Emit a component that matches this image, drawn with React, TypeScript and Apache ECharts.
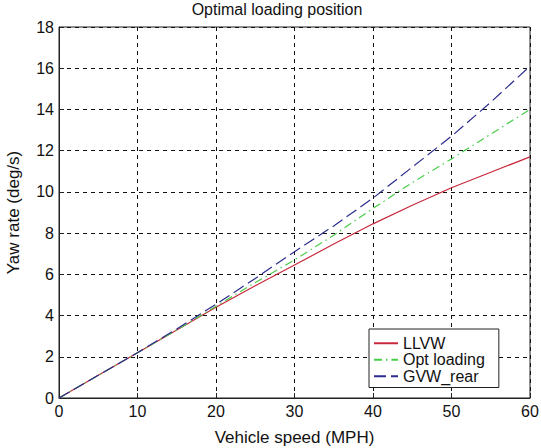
import React, { useEffect, useRef } from "react";
import * as echarts from "echarts";

const speeds = [0, 5, 10, 15, 20, 25, 30, 35, 40, 45, 50, 55, 60];
const llvw = [0, 1.1, 2.2, 3.3, 4.4, 5.45, 6.45, 7.47, 8.45, 9.35, 10.2, 10.95, 11.7];
const optLoading = [0, 1.1, 2.2, 3.3, 4.45, 5.6, 6.7, 7.9, 9.2, 10.45, 11.6, 12.8, 14.0];
const gvwRear = [0, 1.1, 2.2, 3.35, 4.55, 5.8, 7.1, 8.35, 9.7, 11.2, 12.7, 14.35, 16.1];
const seriesNames = ["LLVW", "Opt loading", "GVW_rear"];

const FONT = "'Liberation Sans', Arial, sans-serif";

export default function App() {
  const ref = useRef<HTMLDivElement>(null);
  useEffect(() => {
    if (!ref.current) return;
    const chart = echarts.init(ref.current, undefined, { renderer: "svg" });
    const pair = (ys: number[]) => speeds.map((x, i) => [x, ys[i]]);
    chart.setOption({
      animation: false,
      backgroundColor: "#fff",
      textStyle: { fontFamily: FONT },
      title: {
        text: "Optimal loading position",
        left: 272,
        textAlign: "center",
        top: -4,
        textStyle: { fontFamily: FONT, fontSize: 16, fontWeight: "normal", color: "#111" },
      },
      grid: {
        left: 59, right: 11, top: 27, bottom: 50,
        outerBoundsMode: "none",
        containLabel: false,
        show: true, borderColor: "#222", borderWidth: 1, backgroundColor: "transparent",
      },
      legend: {
        orient: "vertical",
        left: 369,
        top: 329,
        width: 128,
        padding: [6, 14, 3, 4],
        itemGap: 0,
        itemWidth: 24,
        itemHeight: 16,
        itemStyle: { opacity: 0, borderWidth: 0 },
        backgroundColor: "#fff",
        borderColor: "#222",
        borderWidth: 1,
        borderRadius: 0,
        data: seriesNames,
        textStyle: { fontFamily: FONT, fontSize: 16, color: "#111", lineHeight: 16.5 },
      },
      xAxis: {
        type: "value",
        min: 0, max: 60, interval: 10,
        name: "Vehicle speed (MPH)",
        nameLocation: "middle",
        nameGap: 31,
        nameTextStyle: { fontFamily: FONT, fontSize: 17, color: "#111" },
        axisLine: { lineStyle: { color: "#222", width: 1 } },
        axisTick: { inside: true, length: 5, lineStyle: { color: "#222" } },
        axisLabel: { fontFamily: FONT, fontSize: 16, color: "#111", margin: 5 },
        splitLine: { show: true, lineStyle: { color: "#111", type: [4, 4], width: 1 } },
      },
      yAxis: {
        type: "value",
        min: 0, max: 18, interval: 2,
        name: "Yaw rate (deg/s)",
        nameLocation: "middle",
        nameGap: 37,
        nameTextStyle: { fontFamily: FONT, fontSize: 17, color: "#111" },
        axisLine: { show: true, lineStyle: { color: "#222", width: 1 } },
        axisTick: { show: true, inside: true, length: 5, lineStyle: { color: "#222" } },
        axisLabel: { fontFamily: FONT, fontSize: 16, color: "#111", margin: 5 },
        splitLine: { show: true, lineStyle: { color: "#111", type: [4, 4], width: 1 } },
      },
      series: [
        {
          name: seriesNames[0], type: "line", data: pair(llvw), showSymbol: false, symbol: "none",
          itemStyle: { color: "#c8283c" },
          lineStyle: { color: "#c8283c", width: 1.2, type: "solid" }, z: 3,
        },
        {
          name: seriesNames[1], type: "line", data: pair(optLoading), showSymbol: false, symbol: "none",
          itemStyle: { color: "#48cc48" },
          lineStyle: { color: "#48cc48", width: 1.2, type: [8, 4, 1.5, 4] }, z: 4,
        },
        {
          name: seriesNames[2], type: "line", data: pair(gvwRear), showSymbol: false, symbol: "none",
          itemStyle: { color: "#2c2c8e" },
          lineStyle: { color: "#2c2c8e", width: 1.2, type: [12, 5] }, z: 5,
        },
      ],
    });
    return () => chart.dispose();
  }, []);
  return <div ref={ref} style={{ width: 541, height: 448, position: "absolute", left: 0, top: 0 }} />;
}
